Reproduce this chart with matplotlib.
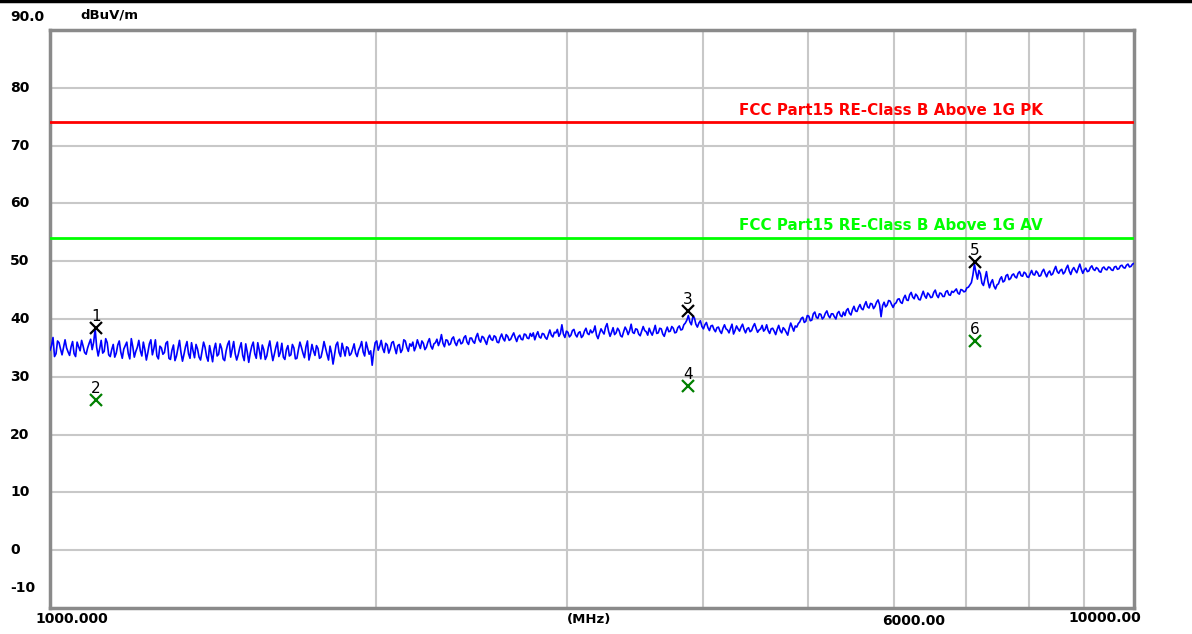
import numpy as np
import matplotlib
matplotlib.use("Agg")
import matplotlib.pyplot as plt
from matplotlib.lines import Line2D
from matplotlib.transforms import blended_transform_factory

# Measured field strength (dBuV/m) across the 1-10 GHz sweep
levels = [
    34.6, 35.4, 36.8, 33.5, 34.0, 36.2, 35.9, 34.8, 33.8, 35.1, 36.4, 35.0, 34.3, 33.7, 35.2, 36.1, 34.0, 33.5, 36.0, 35.2,
    34.5, 36.3, 35.3, 34.2, 33.9, 35.0, 35.8, 36.5, 34.7, 36.0, 38.3, 35.1, 33.6, 34.9, 36.3, 34.1, 34.4, 36.6, 35.9, 33.8,
    33.5, 34.7, 35.6, 33.4, 34.1, 35.5, 36.2, 34.3, 33.2, 34.8, 35.4, 36.0, 34.0, 33.1, 36.6, 35.2, 33.4, 34.4, 35.1, 36.3,
    34.5, 33.6, 36.0, 34.7, 32.9, 34.2, 35.7, 36.4, 33.8, 34.9, 36.4, 33.6, 33.1, 35.3, 35.0, 33.9, 34.2, 35.8, 36.1, 33.2,
    33.0, 34.6, 35.5, 32.8, 33.6, 35.0, 36.3, 34.2, 32.7, 33.9, 35.2, 36.1, 34.0, 33.2, 35.9, 34.5, 33.3, 35.6, 34.8, 33.4,
    32.9, 34.4, 36.0, 35.1, 33.5, 32.7, 35.4, 34.0, 32.6, 34.8, 35.8, 33.6, 33.9, 35.7, 34.9, 33.1, 32.8, 34.5, 35.6, 36.2,
    33.4, 34.8, 36.1, 34.0, 32.9, 33.8, 35.0, 35.9, 33.7, 32.8, 35.7, 34.3, 32.5, 34.1, 35.3, 36.0, 34.0, 33.2, 35.9, 34.6,
    33.1, 35.5, 34.7, 33.0, 33.6, 35.1, 36.2, 34.4, 32.8, 33.9, 35.1, 36.0, 33.5, 34.2, 35.8, 33.4, 33.0, 34.7, 35.4, 33.6,
    33.8, 35.6, 35.0, 33.1, 33.2, 34.7, 36.0, 35.1, 34.1, 33.3, 35.2, 36.2, 32.9, 34.0, 35.6, 34.5, 33.7, 35.4, 34.9, 33.2,
    33.4, 34.6, 36.1, 35.0, 33.9, 32.9, 35.3, 34.1, 32.2, 33.8, 35.5, 36.0, 34.2, 33.5, 35.8, 34.7, 33.6, 35.2, 35.0, 33.7,
    34.0, 34.8, 35.7, 34.1, 33.5, 34.6, 35.2, 36.1, 34.3, 33.6, 36.0, 34.9, 33.9, 34.5, 32.0, 34.3, 35.9, 36.2, 34.6, 35.3,
    36.3, 34.9, 34.2, 35.8, 35.5, 34.1, 34.8, 35.9, 36.1, 35.0, 34.0, 35.4, 35.6, 34.2, 34.7, 36.4, 36.2, 35.1, 34.4, 35.7,
    35.3, 36.0, 34.5, 35.2, 36.4, 35.6, 34.9, 36.2, 35.8, 34.7, 35.1, 36.0, 36.6, 35.3, 34.8, 35.7, 35.9, 36.5, 35.4, 36.1,
    37.3, 35.8, 35.2, 36.4, 36.3, 35.5, 35.7, 36.6, 36.9, 35.9, 35.4, 36.2, 36.5, 35.7, 35.9, 36.8, 37.1, 36.0, 35.6, 36.7,
    36.7, 36.1, 35.8, 36.9, 37.5, 36.4, 36.0, 37.0, 36.8, 36.2, 35.6, 36.7, 37.2, 36.5, 36.3, 37.1, 36.9, 36.0, 35.9, 36.8,
    37.4, 36.6, 36.2, 37.3, 37.0, 36.3, 36.5, 37.1, 37.6, 36.8, 36.1, 36.9, 37.2, 36.5, 36.4, 37.4, 37.3, 36.7, 36.6, 37.5,
    37.0, 37.6, 36.4, 37.2, 37.8, 36.9, 36.7, 37.5, 37.4, 36.8, 36.5, 37.3, 38.1, 37.2, 36.9, 37.7, 37.6, 38.2, 37.0, 37.5,
    39.0, 37.4, 36.8, 37.9, 37.7, 36.9, 37.2, 38.0, 38.2, 37.3, 36.9, 37.6, 37.8, 36.8, 37.1, 37.9, 38.4, 37.5, 37.3, 38.1,
    37.6, 37.9, 38.8, 37.2, 36.6, 37.5, 38.3, 37.8, 37.4, 38.6, 39.2, 37.9, 37.0, 37.7, 38.5, 37.3, 37.6, 38.4, 38.0, 37.1,
    36.9, 37.8, 38.6, 38.1, 37.3, 38.0, 39.1, 37.7, 37.5, 38.3, 38.2, 37.4, 37.1, 37.9, 38.7, 38.0, 37.8, 37.2, 38.4, 37.7,
    37.2, 38.0, 38.9, 37.5, 37.6, 38.4, 38.3, 37.4, 37.0, 37.9, 38.6, 37.8, 37.9, 38.7, 38.4, 37.6, 37.7, 38.5, 38.8, 38.1,
    38.2, 39.0, 39.3, 39.8, 40.6, 39.5, 39.0, 40.4, 40.2, 39.1, 38.6, 39.3, 39.7, 38.7, 38.3, 39.0, 39.4, 38.5, 38.0, 38.8,
    38.9, 38.2, 37.8, 38.5, 38.6, 37.9, 37.5, 38.4, 39.0, 38.3, 38.1, 37.6, 38.4, 39.1, 37.4, 38.0, 38.8, 38.3, 37.9, 38.6,
    39.1, 38.2, 37.6, 38.3, 38.5, 37.8, 38.0, 38.7, 39.2, 38.4, 37.7, 38.1, 38.3, 38.9, 37.9, 38.2, 39.0, 38.0, 37.5, 38.3,
    38.4, 37.9, 37.3, 38.2, 38.9, 38.0, 37.6, 38.5, 38.2, 37.7, 37.2, 38.4, 39.3, 38.6, 37.9, 38.8, 38.6, 39.2, 39.5, 40.1,
    40.3, 39.4, 39.6, 40.6, 40.5, 39.7, 39.8, 40.9, 41.2, 40.3, 40.1, 40.9, 40.8, 40.0, 40.3, 41.0, 41.4, 40.6, 40.2, 40.9,
    40.9, 40.4, 40.0, 41.0, 41.3, 40.6, 40.4, 41.2, 40.6, 41.5, 41.8, 41.0, 40.7, 41.6, 42.2, 41.4, 41.3, 42.0, 42.5, 41.8,
    41.6, 42.4, 43.0, 42.1, 41.9, 42.7, 42.6, 41.8, 42.2, 42.9, 43.3, 42.5, 40.4, 42.3, 42.9, 42.1, 42.4, 43.2, 43.1, 42.5,
    42.0, 42.6, 42.8, 43.4, 43.5, 42.9, 42.7, 43.6, 44.1, 43.3, 43.2, 44.2, 44.6, 43.8, 43.5, 44.3, 44.0, 43.4, 43.3, 44.1,
    44.8, 44.0, 43.6, 44.5, 44.2, 43.7, 43.8, 44.6, 45.0, 44.1, 43.7, 44.5, 44.4, 43.9, 43.9, 44.7, 44.9, 44.2, 44.1, 44.8,
    44.6, 44.9, 45.2, 44.5, 44.3, 45.1, 45.0, 44.7, 44.8, 45.4, 45.5, 45.9, 46.3, 47.6, 49.5, 48.1, 46.9, 48.4, 47.8, 46.2,
    45.8, 47.0, 48.2, 46.5, 45.4, 46.3, 46.8, 45.7, 45.2, 45.9, 46.1, 46.9, 47.3, 46.4, 46.6, 47.5, 47.7, 46.8, 47.0, 47.6,
    47.8, 47.3, 47.1, 47.9, 48.2, 47.5, 47.4, 48.1, 47.9, 47.3, 47.2, 47.8, 48.4, 47.7, 47.6, 48.3, 48.0, 47.4, 47.5, 48.2,
    48.6, 47.9, 47.3, 48.0, 48.3, 47.6, 47.8, 48.5, 49.1, 48.2, 47.9, 48.4, 48.6, 47.8, 48.1, 48.8, 49.3, 48.3, 47.7, 48.5,
    48.9, 48.4, 48.0, 48.8, 49.5, 48.6, 47.9, 48.5, 48.8, 48.2, 48.3, 48.9, 49.2, 48.6, 48.4, 48.9, 48.7, 48.2, 48.1, 48.8,
    49.0, 48.6, 48.5, 49.0, 48.9, 48.5, 48.4, 49.0, 49.1, 48.6, 48.7, 49.2, 49.3, 48.9, 48.8, 49.3, 49.5, 49.0, 49.1, 49.5,
    49.6,
]
f_start, f_stop = 1000.0, 10000.0
freqs = np.geomspace(f_start, f_stop, len(levels))

# Limit lines
limit_pk = 74.0
limit_av = 54.0
limit_pk_label = "FCC Part15 RE-Class B Above 1G PK"
limit_av_label = "FCC Part15 RE-Class B Above 1G AV"

# Marker readings
marker_ids = ["1", "2", "3", "4", "5", "6"]
marker_freqs = [1103.0, 1103.0, 3879.0, 3879.0, 7136.0, 7136.0]
marker_levels = [38.4, 26.0, 41.3, 28.4, 49.8, 36.2]
marker_kinds = ["pk", "av", "pk", "av", "pk", "av"]

y_ticks = [0, 10, 20, 30, 40, 50, 60, 70, 80]
grid_freqs = [2000, 3000, 4000, 5000, 6000, 7000, 8000, 9000]

W, H = 1192, 634
fig = plt.figure(figsize=(W / 100, H / 100), dpi=100)
fig.patch.set_facecolor("white")

# axes box in pixel coordinates
L, R, T, B = 50, 1134, 30, 608
ax = fig.add_axes([L / W, 1 - B / H, (R - L) / W, (B - T) / H])
ax.set_xscale("log")
ax.set_xlim(f_start, f_stop)
ax.set_ylim(-10, 90)
ax.set_xticks([])
ax.set_yticks([])
ax.minorticks_off()
for s in ax.spines.values():
    s.set_color("#8a8a8a")
    s.set_linewidth(2.5)

grid_c = "#c8c8c8"
for g in grid_freqs:
    ax.axvline(g, color=grid_c, lw=1.5, zorder=1)
for yv in y_ticks:
    ax.axhline(yv, color=grid_c, lw=1.5, zorder=1)

ax.axhline(limit_pk, color="#ff0000", lw=2, zorder=3)
ax.axhline(limit_av, color="#00ff00", lw=2, zorder=3)

txt_font = dict(family="DejaVu Sans", fontweight="bold")
ax.annotate(limit_pk_label, xy=(4320, limit_pk), xytext=(0, 3.5), textcoords="offset points",
            color="#ff0000", fontsize=10.9, va="bottom", ha="left", **txt_font)
ax.annotate(limit_av_label, xy=(4320, limit_av), xytext=(0, 3.5), textcoords="offset points",
            color="#00ff00", fontsize=10.9, va="bottom", ha="left", **txt_font)

ax.plot(freqs, levels, color="#0000ff", lw=1.2, zorder=4)

for mid, mf, ml, kind in zip(marker_ids, marker_freqs, marker_levels, marker_kinds):
    c = "#000000" if kind == "pk" else "#008000"
    ax.plot([mf], [ml], marker="x", markersize=8, markeredgewidth=1.6, color=c, zorder=6)
    ax.annotate(mid, xy=(mf, ml), xytext=(0, 3), textcoords="offset points",
                ha="center", va="bottom", fontsize=11, color="#000000", zorder=7,
                family="DejaVu Sans")

# y labels, left aligned at the figure edge
tr = blended_transform_factory(fig.transFigure, ax.transData)
for yv in y_ticks:
    ax.text(10 / W, yv, str(yv), transform=tr, ha="left", va="center", fontsize=10, **txt_font)


def ftext(px, py, s, size=10):
    fig.text(px / W, 1 - py / H, s, ha="left", va="center", fontsize=size, **txt_font)


ftext(10, 17, "90.0")
ftext(10, 588, "-10")
ftext(80, 15, "dBuV/m", size=9.5)
ftext(35, 619, "1000.000")
ftext(567, 620, "(MHz)", size=9.5)
ftext(882, 621, "6000.00")
ftext(1068, 618, "10000.00")

# black strip across the top edge
fig.add_artist(Line2D([0, 1], [1 - 1 / H, 1 - 1 / H], transform=fig.transFigure, color="black", lw=2.5))

fig.savefig("out.png", dpi=100, facecolor="white")
